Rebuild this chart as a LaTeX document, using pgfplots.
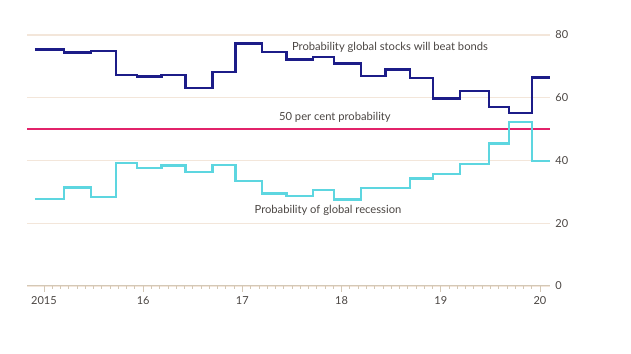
\documentclass[border=0pt]{standalone}
\usepackage{pgfplots}
\pgfplotsset{compat=1.18}
\usepackage{fontspec}
\setmainfont{Lato}
\definecolor{navyl}{HTML}{1C1C88}
\definecolor{cyanl}{HTML}{5DD6E0}
\definecolor{crim}{HTML}{E2236A}
\definecolor{gridc}{HTML}{F3E6DA}
\definecolor{axc}{HTML}{D4C8B6}
\definecolor{txt}{HTML}{4A4542}
\begin{document}
\begin{tikzpicture}
\path[use as bounding box] (0,0) rectangle (631pt,353pt);
\begin{axis}[
  at={(27pt,67pt)}, anchor=south west,
  scale only axis, width=523pt, height=251pt,
  xmin=2014.829, xmax=2020.101, ymin=0, ymax=80,
  axis x line*=bottom, axis y line*=right,
  y axis line style={draw=none},
  x axis line style={axc, line width=1pt, -},
  xtick={2015,2016,2017,2018,2019,2020},
  xticklabels={2015,16,17,18,19,20},
  minor x tick num=11,
  tick align=outside,
  major tick length=6pt, minor tick length=3pt,
  x tick style={axc, line width=0.8pt},
  ytick={0,20,40,60,80},
  y tick style={draw=none},
  ymajorgrids, grid style={gridc, line width=1.2pt},
  xticklabel style={font=\fontsize{11}{13}\selectfont, text=txt, yshift=-1pt},
  yticklabel style={anchor=west, xshift=-4pt, font=\fontsize{11}{13}\selectfont, text=txt},
  /pgf/number format/assume math mode=true,
  clip=false,
]
\addplot[crim, line width=2.2pt] coordinates {(2014.829,50) (2020.101,50)};
\addplot[navyl, line width=2.3pt, const plot mark left] coordinates {
(2014.909,75.4) (2015.202,74.4) (2015.474,74.8) (2015.723,67.2) (2015.937,66.8)
(2016.186,67.3) (2016.428,63.0) (2016.700,68.2) (2016.932,77.3) (2017.200,74.5)
(2017.446,72.2) (2017.715,73.0) (2017.923,70.9) (2018.196,66.9) (2018.444,69.0)
(2018.690,66.2) (2018.924,59.8) (2019.194,62.1) (2019.483,57.1) (2019.690,55.2)
(2019.916,66.5) (2020.101,66.5)};
\addplot[cyanl, line width=2.3pt, const plot mark left] coordinates {
(2014.909,27.7) (2015.202,31.4) (2015.474,28.3) (2015.723,39.1) (2015.937,37.6)
(2016.186,38.4) (2016.428,36.4) (2016.700,38.6) (2016.932,33.5) (2017.200,29.5)
(2017.446,28.7) (2017.715,30.7) (2017.923,27.6) (2018.196,31.3) (2018.444,31.3)
(2018.690,34.3) (2018.924,35.7) (2019.194,38.9) (2019.483,45.4) (2019.690,52.3)
(2019.916,39.9) (2020.101,39.9)};
\node[font=\fontsize{11.2}{13}\selectfont, text=txt] at (axis cs:2018.488,76.2) {Probability global stocks will beat bonds};
\node[font=\fontsize{11.2}{13}\selectfont, text=txt] at (axis cs:2017.933,53.9) {50 per cent probability};
\node[font=\fontsize{11.2}{13}\selectfont, text=txt] at (axis cs:2017.863,24.2) {Probability of global recession};
\end{axis}
\end{tikzpicture}
\end{document}
